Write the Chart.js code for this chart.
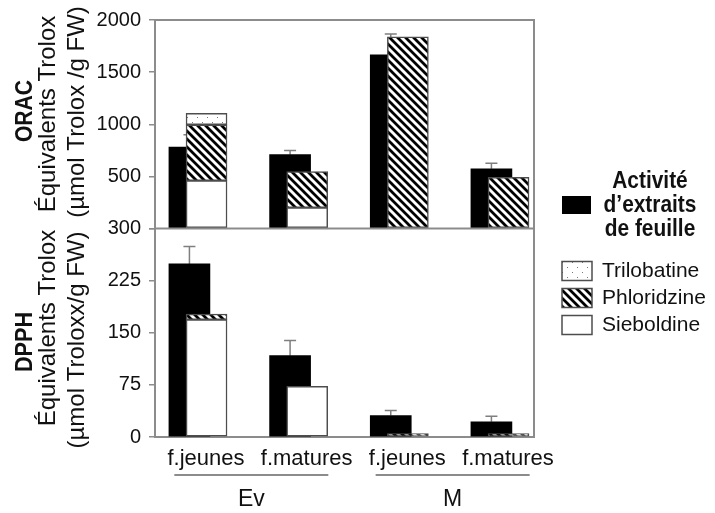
<!DOCTYPE html>
<html>
<head>
<meta charset="utf-8">
<script src="https://cdn.jsdelivr.net/npm/chart.js@4.4.0/dist/chart.umd.min.js"></script>
<style>
  html, body { margin: 0; padding: 0; background: #fff; }
  #wrap { width: 715px; height: 513px; }
</style>
</head>
<body>
<div id="wrap"><canvas id="chart" width="715" height="513"></canvas></div>
<script>
// Categories
const leafLabels = ['f.jeunes', 'f.matures', 'f.jeunes', 'f.matures'];
const groupLabels = ['Ev', 'M'];
const positions = [1, 2, 3, 4];

// ORAC, µmol Trolox / g FW
const oracActivity = [780, 708, 1665, 573];
const oracError = [120, 40, 200, 54];
const oracSieboldine = [460, 200, null, null];
const oracPhloridzine = [535, 345, 1838, 491];
const oracTrilobatine = [110, null, null, null];

// DPPH, µmol Trolox / g FW
const dpphActivity = [249, 117, 31, 22];
const dpphError = [25, 22, 7, 8];
const dpphSieboldine = [169, 73, null, null];
const dpphPhloridzine = [8, null, 5, 5];
const dpphTrilobatine = [null, null, null, null];

// Tick labels
const oracTicks = [0, 500, 1000, 1500, 2000];
const dpphTicks = [0, 75, 150, 225, 300];

// Texts
const oracTitle = ['ORAC', 'Équivalents Trolox', '(µmol Trolox /g FW)'];
const dpphTitle = ['DPPH', 'Équivalents Trolox', '(µmol Troloxx/g FW)'];
const activityLegend = ['Activité', 'd’extraits', 'de feuille'];
const compoundNames = ['Trilobatine', 'Phloridzine', 'Sieboldine'];


const FAMILY = "'Liberation Sans', Arial, Helvetica, sans-serif";
const axisGray = '#8c8c8c';
const textColor = '#111';
const shift = 0.085;   // black bar sits left, compounds right, overlapping

// Fill patterns
function hatchPattern() {
    const s = 8;
    const c = document.createElement('canvas');
    c.width = s; c.height = s;
    const g = c.getContext('2d');
    g.fillStyle = '#fff';
    g.fillRect(0, 0, s, s);
    g.strokeStyle = '#000';
    g.lineWidth = 2.8;
    g.beginPath();
    g.moveTo(-1, -1); g.lineTo(s + 1, s + 1);
    g.moveTo(s - 3, -3); g.lineTo(s + 3, 3);
    g.moveTo(-3, s - 3); g.lineTo(3, s + 3);
    g.stroke();
    return g.createPattern(c, 'repeat');
}

function dotPattern() {
    const c = document.createElement('canvas');
    c.width = 10; c.height = 10;
    const g = c.getContext('2d');
    g.fillStyle = '#fff';
    g.fillRect(0, 0, 10, 10);
    g.fillStyle = '#777';
    g.fillRect(2, 2, 1, 1);
    g.fillRect(7, 7, 1, 1);
    return g.createPattern(c, 'repeat');
}

const hatch = hatchPattern();
const dots = dotPattern();

const blackX = positions.map(p => p - shift);
const cmpX = positions.map(p => p + shift);
const pts = (xs, ys) => xs.map((x, i) => ({ x: x, y: ys[i] }));

function compound(label, xs, ys, axis, fill) {
    return {
        label: label, data: pts(xs, ys), yAxisID: axis, stack: 'cmp', order: 1,
        backgroundColor: fill, borderColor: '#4d4d4d', borderWidth: 1.5, borderSkipped: false
    };
}

function activity(ys, errs, axis) {
    return {
        label: 'Activité d’extraits de feuille', data: pts(blackX, ys), errors: errs,
        yAxisID: axis, stack: 'act', order: 2, backgroundColor: '#000', borderWidth: 0
    };
}

const datasets = [
    activity(oracActivity, oracError, 'yTop'),
    compound('Sieboldine', cmpX, oracSieboldine, 'yTop', '#fff'),
    compound('Phloridzine', cmpX, oracPhloridzine, 'yTop', hatch),
    compound('Trilobatine', cmpX, oracTrilobatine, 'yTop', dots),
    activity(dpphActivity, dpphError, 'yBot'),
    compound('Sieboldine', cmpX, dpphSieboldine, 'yBot', '#fff'),
    compound('Phloridzine', cmpX, dpphPhloridzine, 'yBot', hatch),
    compound('Trilobatine', cmpX, dpphTrilobatine, 'yBot', dots)
];

function rotatedText(ctx, text, x, y, font, sx) {
    ctx.save();
    ctx.translate(x, y);
    ctx.rotate(-Math.PI / 2);
    ctx.scale(sx || 1, 1);
    ctx.font = font;
    ctx.fillStyle = textColor;
    ctx.textAlign = 'center';
    ctx.textBaseline = 'middle';
    ctx.fillText(text, 0, 0);
    ctx.restore();
}

function narrowText(ctx, text, x, y, font, sx, align) {
    ctx.save();
    ctx.translate(x, y);
    ctx.scale(sx, 1);
    ctx.font = font;
    ctx.fillStyle = textColor;
    ctx.textAlign = align || 'center';
    ctx.textBaseline = 'middle';
    ctx.fillText(text, 0, 0);
    ctx.restore();
}

// Error bars, frame, group labels, axis titles and legend
const panelPlugin = {
    id: 'panels',
    beforeDatasetsDraw(chart) {
        const ctx = chart.ctx;
        ctx.save();
        ctx.strokeStyle = '#7f7f7f';
        ctx.lineWidth = 1.5;
        chart.data.datasets.forEach((ds, di) => {
            if (!ds.errors) return;
            const yScale = chart.scales[ds.yAxisID];
            chart.getDatasetMeta(di).data.forEach((bar, i) => {
                const top = yScale.getPixelForValue(ds.data[i].y + ds.errors[i]);
                ctx.beginPath();
                ctx.moveTo(bar.x, bar.y);
                ctx.lineTo(bar.x, top);
                ctx.moveTo(bar.x - 6, top);
                ctx.lineTo(bar.x + 6, top);
                ctx.stroke();
            });
        });
        ctx.restore();
    },
    afterDatasetsDraw(chart) {
        const ctx = chart.ctx;
        const a = chart.chartArea;
        ctx.save();
        ctx.strokeStyle = axisGray;
        ctx.lineWidth = 2;
        ctx.beginPath();
        ctx.moveTo(a.left, a.top);
        ctx.lineTo(a.right, a.top);
        ctx.lineTo(a.right, a.bottom);
        const mid = chart.scales.yTop.bottom;
        ctx.moveTo(a.left, mid);
        ctx.lineTo(a.right, mid);
        ctx.stroke();
        ctx.restore();
    },
    afterDraw(chart) {
        const ctx = chart.ctx;
        const x = chart.scales.x;

        // Ev / M groups under the leaf labels
        groupLabels.forEach((g, k) => {
            const cx = x.getPixelForValue(positions[2 * k] + 0.5) + 3;
            ctx.save();
            ctx.strokeStyle = '#666';
            ctx.lineWidth = 1.5;
            ctx.beginPath();
            ctx.moveTo(cx - 77, 475);
            ctx.lineTo(cx + 77, 475);
            ctx.stroke();
            ctx.restore();
            narrowText(ctx, g, cx, 500, '23px ' + FAMILY, 1);
        });

        // Axis titles
        const titleX = [25, 48, 77];
        const topY = [111, 114, 112];
        const botY = [342, 328, 340];
        oracTitle.forEach((t, i) => {
            rotatedText(ctx, t, titleX[i], topY[i], (i ? '' : 'bold ') + '24px ' + FAMILY, i ? 1 : 0.88);
        });
        dpphTitle.forEach((t, i) => {
            rotatedText(ctx, t, titleX[i], botY[i], (i ? '' : 'bold ') + '24px ' + FAMILY, i ? 1 : 0.9);
        });

        // Legend
        ctx.save();
        ctx.fillStyle = '#000';
        ctx.fillRect(562, 196, 29, 18);
        ctx.restore();
        activityLegend.forEach((t, i) => {
            narrowText(ctx, t, 650, 181 + i * 24, 'bold 24px ' + FAMILY, 0.87);
        });
        const fills = [dots, hatch, '#fff'];
        compoundNames.forEach((name, i) => {
            const cy = 271 + i * 27;
            ctx.save();
            ctx.fillStyle = fills[i];
            ctx.fillRect(562, cy - 9.5, 30, 19);
            ctx.strokeStyle = '#4d4d4d';
            ctx.lineWidth = 1.5;
            ctx.strokeRect(562, cy - 9.5, 30, 19);
            ctx.restore();
            narrowText(ctx, name, 602, cy, '21px ' + FAMILY, 1, 'left');
        });
    }
};

function valueAxis(ticks, hideZero) {
    return {
        type: 'linear',
        position: 'left',
        stack: 'panels',
        stackWeight: 1,
        stacked: true,
        min: ticks[0],
        max: ticks[ticks.length - 1],
        afterBuildTicks: s => { s.ticks = ticks.map(v => ({ value: v })); },
        afterFit: s => { s.width = 65; },
        grid: { drawOnChartArea: false, color: axisGray, lineWidth: 1.5, tickLength: 6 },
        border: { color: axisGray, width: 2 },
        ticks: {
            callback: v => (hideZero && v === 0) ? '' : v,
            font: { size: 20, family: FAMILY },
            color: textColor,
            padding: 8
        }
    };
}

new Chart(document.getElementById('chart'), {
    type: 'bar',
    data: { datasets: datasets },
    options: {
        responsive: false,
        animation: false,
        grouped: false,
        barThickness: 41,
        layout: { padding: { left: 90, right: 181, top: 13, bottom: 0 } },
        plugins: { legend: { display: false }, tooltip: { enabled: false } },
        scales: {
            x: {
                type: 'linear',
                offset: false,
                min: 0.573,
                max: 4.338,
                afterBuildTicks: s => { s.ticks = positions.map(v => ({ value: v })); },
                afterFit: s => { s.height = 76; },
                grid: { display: false, drawTicks: false, offset: false },
                border: { display: true, color: axisGray, width: 2 },
                ticks: {
                    callback: (v, i) => leafLabels[i],
                    font: { size: 22, family: FAMILY },
                    color: textColor,
                    padding: 9,
                    labelOffset: 8,
                    maxRotation: 0,
                    autoSkip: false
                }
            },
            yBot: valueAxis(dpphTicks, false),
            yTop: valueAxis(oracTicks, true)
        }
    },
    plugins: [panelPlugin]
});
</script>
</body>
</html>
